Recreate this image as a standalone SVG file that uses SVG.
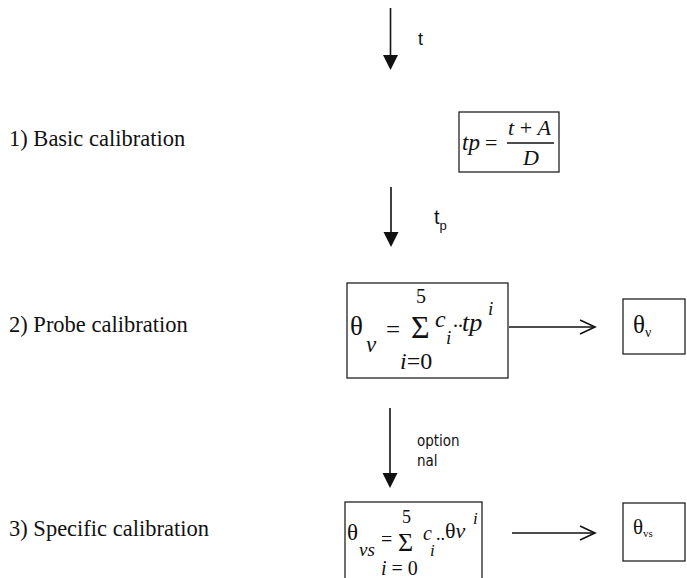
<svg xmlns="http://www.w3.org/2000/svg" width="687" height="578" viewBox="0 0 687 578">
<style>
.lbl{font-family:"Liberation Serif","Times New Roman",serif;font-size:22.5px;fill:#111}
.m{font-family:"Liberation Serif","Times New Roman",serif;font-style:italic;fill:#111}
.r{font-family:"Liberation Serif","Times New Roman",serif;fill:#111}
.s{font-family:"Liberation Sans",Arial,sans-serif;fill:#111}
.c{font-family:"DejaVu Sans Condensed","DejaVu Sans",sans-serif;font-stretch:condensed;fill:#111}
.box{fill:#fff;stroke:#222;stroke-width:1.3}
.ln{stroke:#111;stroke-width:1.6;fill:none}
.hd{fill:#111}
</style>
<g id="labels">
<text class="lbl" x="9" y="146">1) Basic calibration</text>
<text class="lbl" x="9" y="332">2) Probe calibration</text>
<text class="lbl" x="9" y="536">3) Specific calibration</text>
</g>
<g id="node-basic">
<rect class="box" x="459" y="112" width="100" height="60"/>
<text class="m" x="462" y="150" font-size="23">tp</text>
<text class="r" x="485" y="150" font-size="22">=</text>
<line x1="507" y1="143" x2="554" y2="143" stroke="#111" stroke-width="1.3"/>
<text class="m" x="508" y="135" font-size="22">t<tspan font-style="normal"> + </tspan>A</text>
<text class="m" x="523" y="165" font-size="22">D</text>
</g>
<g id="node-probe">
<rect class="box" x="347" y="283" width="161" height="95"/>
<text class="r" x="350" y="335" font-size="27">θ</text>
<text class="m" x="366" y="352" font-size="23">v</text>
<text class="r" x="386" y="338" font-size="25">=</text>
<text class="r" x="416" y="303" font-size="20">5</text>
<text class="r" x="411" y="338" font-size="32">Σ</text>
<text class="m" x="435" y="327" font-size="24">c</text>
<text class="m" x="446" y="344" font-size="19">i</text>
<text class="r" x="453" y="327" font-size="20">..</text>
<text class="m" x="462" y="331" font-size="26">tp</text>
<text class="m" x="488" y="315" font-size="19">i</text>
<text class="m" x="400" y="369" font-size="24">i<tspan font-style="normal">=0</tspan></text>
</g>
<g id="node-theta-v">
<rect class="box" x="623" y="299" width="62" height="55"/>
<text class="r" x="633" y="333" font-size="25">θ<tspan font-size="14" dy="4">ν</tspan></text>
</g>
<g id="node-specific">
<rect class="box" x="345" y="502" width="137" height="80"/>
<text class="r" x="347" y="540" font-size="23">θ</text>
<text class="m" x="359" y="556" font-size="19">vs</text>
<text class="r" x="381" y="546" font-size="20">=</text>
<text class="r" x="402" y="523" font-size="18">5</text>
<text class="r" x="398" y="551" font-size="26">Σ</text>
<text class="m" x="423" y="540" font-size="20">c</text>
<text class="m" x="430" y="556" font-size="17">i</text>
<text class="r" x="436" y="540" font-size="18">..</text>
<text class="r" x="445" y="538" font-size="22">θ<tspan font-style="italic">v</tspan></text>
<text class="m" x="473" y="524" font-size="17">i</text>
<text class="m" x="381" y="575" font-size="20">i<tspan font-style="normal"> = 0</tspan></text>
</g>
<g id="node-theta-vs">
<rect class="box" x="623" y="503" width="62" height="58"/>
<text class="r" x="633" y="534" font-size="21">θ<tspan font-size="11" dy="3">vs</tspan></text>
</g>
<g id="connectors">
<line class="ln" x1="390.5" y1="8" x2="390.5" y2="58"/>
<polygon class="hd" points="383,55 398,55 390.5,70"/>
<text class="s" x="418" y="45" font-size="18">t</text>
<line class="ln" x1="391" y1="187" x2="391" y2="235"/>
<polygon class="hd" points="383.5,232 398.5,232 391,247"/>
<text class="s" x="434" y="224" font-size="20">t<tspan font-size="13" dy="6">p</tspan></text>
<line class="ln" x1="390" y1="408" x2="390" y2="476"/>
<polygon class="hd" points="382.5,473 397.5,473 390,488"/>
<text class="c" x="417" y="446" font-size="15">option</text>
<text class="c" x="417" y="466" font-size="15">nal</text>
<line class="ln" x1="509" y1="327" x2="595" y2="327"/>
<path class="ln" d="M580,320 L595,327 L580,334"/>
<line class="ln" x1="512" y1="533" x2="595" y2="533"/>
<path class="ln" d="M580,526 L595,533 L580,540"/>
</g>
</svg>
